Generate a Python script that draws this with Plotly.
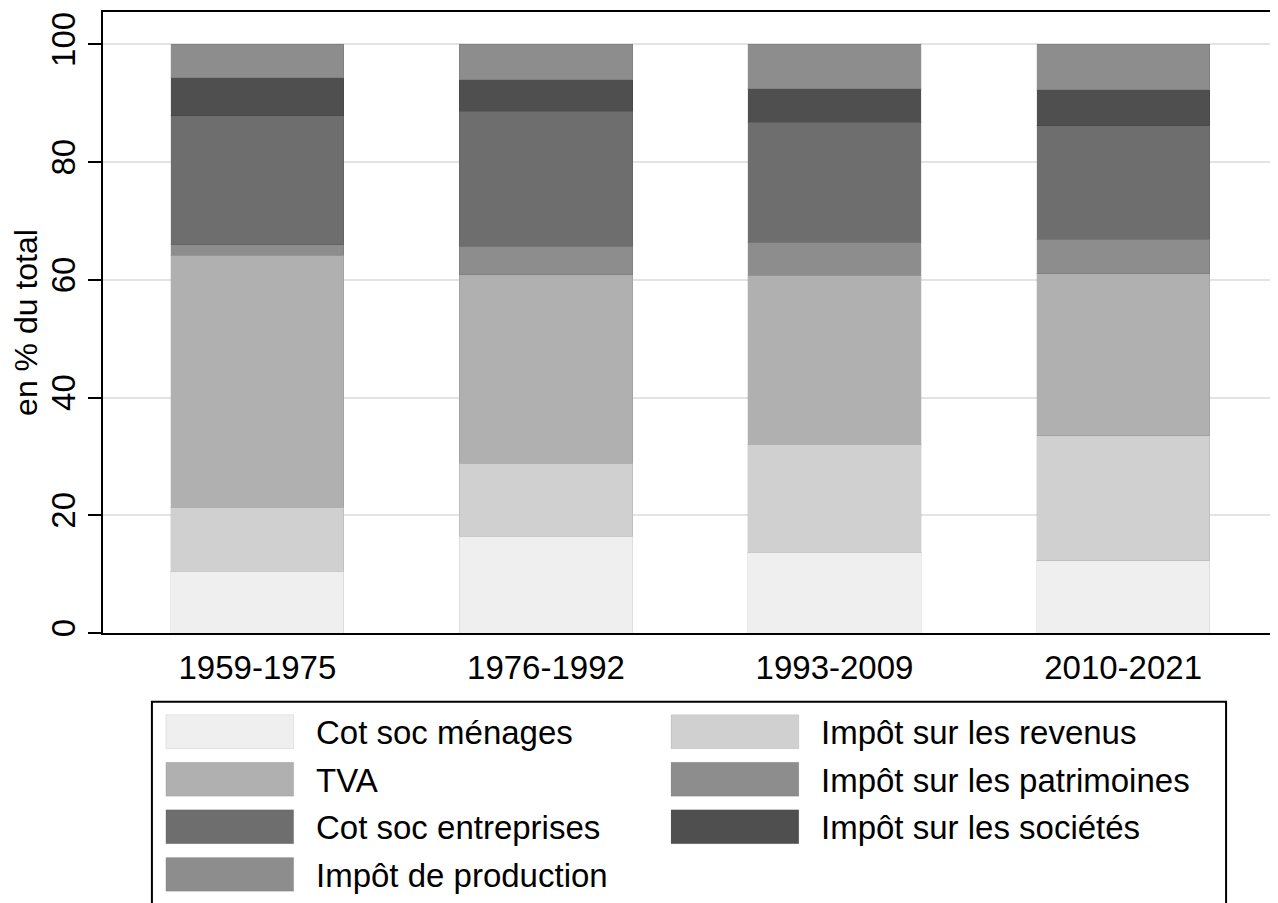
import plotly.graph_objects as go

# periods and tax shares (% of total)
periods = ["1959-1975", "1976-1992", "1993-2009", "2010-2021"]

cot_soc_menages = [10.5, 16.4, 13.7, 12.3]
impot_revenus = [10.9, 12.4, 18.4, 21.2]
tva = [42.8, 32.1, 28.7, 27.5]
impot_patrimoines = [1.8, 4.8, 5.6, 5.9]
cot_soc_entreprises = [21.9, 22.9, 20.4, 19.3]
impot_societes = [6.4, 5.4, 5.7, 6.1]
impot_production = [5.7, 6.0, 7.5, 7.7]

series_names = ["Cot soc ménages", "Impôt sur les revenus", "TVA",
                "Impôt sur les patrimoines", "Cot soc entreprises",
                "Impôt sur les sociétés", "Impôt de production"]
series_values = [cot_soc_menages, impot_revenus, tva, impot_patrimoines,
                 cot_soc_entreprises, impot_societes, impot_production]
series_colors = ["#efefef", "#d0d0d0", "#b0b0b0", "#8d8d8d",
                 "#6e6e6e", "#4f4f4f", "#8d8d8d"]

# the page body has an 8px margin, so the figure is shifted by that
OFF = 8
W, H = 1278 - OFF, 903 - OFF
L, R, T, B = 103, 1276, 10, 633  # plot frame in screen pixels


def px_x(x):
    return (x - L) / (R - L)


def px_y(y):
    return (B - y) / (B - T)


fig = go.Figure()
for name, vals, col in zip(series_names, series_values, series_colors):
    fig.add_trace(go.Bar(
        x=periods, y=vals, name=name,
        marker=dict(color=col, line=dict(color="rgba(0,0,0,0.08)", width=1)),
        width=0.6, showlegend=False,
    ))

# legend drawn by hand (Stata-style big swatches, 2 columns)
shapes = []
annotations = []
col_x = [(166, 294, 314), (672, 800, 820)]
row_y0 = 715
row_step = 47.7
for i, (name, col) in enumerate(zip(series_names, series_colors)):
    r, c = divmod(i, 2)
    sx0, sx1, tx = col_x[c]
    y0 = row_y0 + r * row_step
    y1 = y0 + 34
    shapes.append(dict(type="rect", xref="paper", yref="paper",
                       x0=px_x(sx0), x1=px_x(sx1), y0=px_y(y1), y1=px_y(y0),
                       fillcolor=col, line=dict(color="rgba(0,0,0,0.08)", width=1)))
    annotations.append(dict(xref="paper", yref="paper", x=px_x(tx), y=px_y((y0 + y1) / 2 + 1),
                            text=name, showarrow=False, xanchor="left", yanchor="middle",
                            font=dict(size=33, color="black")))

# legend frame (cut off at the bottom of the image)
shapes.append(dict(type="rect", xref="paper", yref="paper",
                   x0=px_x(152), x1=px_x(1228), y0=px_y(915), y1=px_y(702),
                   line=dict(color="black", width=2), fillcolor="rgba(0,0,0,0)"))

fig.update_layout(
    width=W, height=H,
    margin=dict(l=L - OFF, r=1278 - R, t=T - OFF, b=903 - B),
    barmode="stack",
    plot_bgcolor="white",
    paper_bgcolor="white",
    font=dict(family="Liberation Sans, Arial, sans-serif", size=33, color="black"),
    shapes=shapes,
    annotations=annotations,
    showlegend=False,
)
fig.update_xaxes(
    range=[-0.535, 3.523],
    showline=True, linecolor="black", linewidth=2, mirror=True,
    ticks="", showgrid=False,
    tickfont=dict(size=33), ticklabelstandoff=4,
)
fig.update_yaxes(
    range=[0, 105.5],
    tickvals=[0, 20, 40, 60, 80, 100],
    ticks="outside", ticklen=13, tickwidth=2, tickcolor="black",
    tickangle=-90, tickfont=dict(size=33),
    showline=True, linecolor="black", linewidth=2, mirror=True,
    showgrid=True, gridcolor="#e3e3e3", gridwidth=2,
    zeroline=False,
    title=dict(text="en % du total", font=dict(size=32), standoff=6),
)

fig.write_html("out.html")
